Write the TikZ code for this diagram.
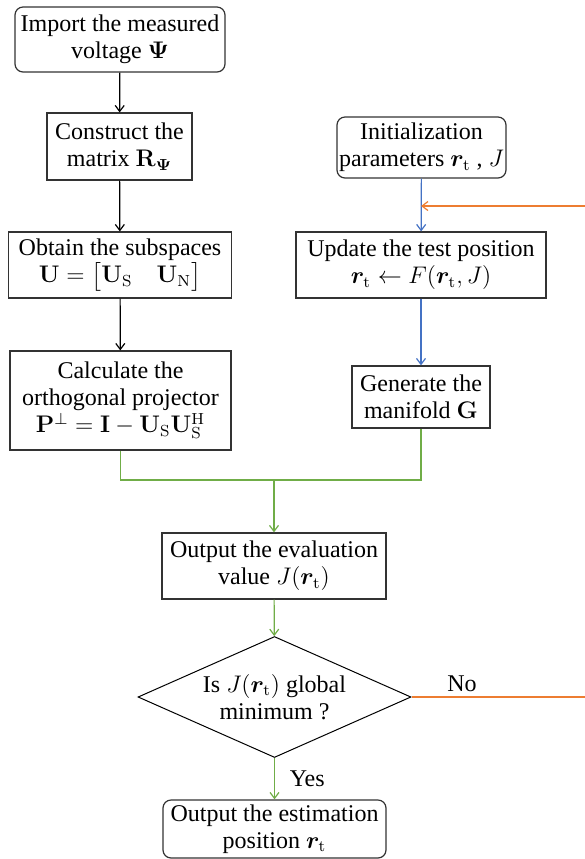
\documentclass[tikz,border=0pt]{standalone}
\usepackage{amsmath,bm}
\usepackage[no-math]{fontspec}
\setmainfont{Liberation Serif}
\usetikzlibrary{shapes.geometric,arrows.meta}
\definecolor{lineblue}{RGB}{68,114,196}
\definecolor{lineorange}{RGB}{237,125,49}
\definecolor{linegreen}{RGB}{112,173,71}
\tikzset{
  box/.style={draw=black!80,line width=0.6pt,align=center,inner sep=1pt,
    font=\fontsize{12}{13.5}\selectfont},
  roundbox/.style={box,rounded corners=4pt},
  decision/.style={draw,diamond,line width=0.5pt,inner sep=0pt,
    minimum width=136.5pt,minimum height=60.5pt},
  flow/.style={line width=0.6pt,-{Straight Barb[length=3pt,width=4.5pt]}},
  lbl/.style={text=black,font=\fontsize{12}{13.5}\selectfont}
}
\begin{document}
\begin{tikzpicture}[x=0.5pt,y=-0.5pt]
            \useasboundingbox (0,0) rectangle (585,859);
            \node[roundbox,minimum width=105pt,minimum height=32.5pt] (imp) at (120,39.5) {Import the measured\\voltage $\boldsymbol{\Psi}$};
            \node[box,minimum width=72.5pt,minimum height=33.5pt] (cons) at (119.5,146.5) {Construct the\\matrix $\mathbf{R}_{\boldsymbol{\Psi}}$};
            \node[box,minimum width=111.5pt,minimum height=33pt] (obt) at (120,265) {Obtain the subspaces\\$\mathbf{U}=\bigl[\mathbf{U}_{\mathrm{S}}\quad\mathbf{U}_{\mathrm{N}}\bigr]$};
            \node[box,minimum width=110.5pt,minimum height=49.5pt] (calc) at (120.5,400.5) {Calculate the\\orthogonal projector\\$\mathbf{P}^{\perp}=\mathbf{I}-\mathbf{U}_{\mathrm{S}}\mathbf{U}_{\mathrm{S}}^{\mathrm{H}}$};
            \node[roundbox,minimum width=84.5pt,minimum height=30.5pt] (init) at (421.5,147.5) {Initialization\\parameters $\bm{r}_{\mathrm{t}}$ , $J$};
            \node[box,minimum width=125pt,minimum height=33pt] (upd) at (421,265) {Update the test position\\$\bm{r}_{\mathrm{t}}\leftarrow F(\bm{r}_{\mathrm{t}},J)$};
            \node[box,minimum width=69pt,minimum height=31pt] (gen) at (421,397) {Generate the\\manifold $\mathbf{G}$};
            \node[box,minimum width=112pt,minimum height=33pt] (eval) at (274,566) {Output the evaluation\\value $J(\bm{r}_{\mathrm{t}})$};
            \node[decision] (dec) at (274.5,697) {};
            \node[lbl,align=center] (dectxt) at (dec) {Is $J(\bm{r}_{\mathrm{t}})$ global\\minimum ?};
            \node[roundbox,minimum width=111.5pt,minimum height=29pt] (est) at (274.5,829) {Output the estimation\\position $\bm{r}_{\mathrm{t}}$};
            \coordinate (mrg) at (274,480);
            \coordinate (fbin) at (421,206);
            \coordinate (rgt1) at (592,697);
            \coordinate (rgt2) at (592,206);
            \draw[flow] (imp) -- (cons);
            \draw[flow] (cons) -- (obt);
            \draw[flow] (obt) -- (calc);
            \draw[flow,lineblue] (init) -- (upd);
            \draw[flow,lineblue] (upd) -- (gen);
            \draw[line width=0.6pt,linegreen] (calc.south) |- (mrg) -| (gen.south);
            \draw[flow,linegreen] (mrg) -- (eval);
            \draw[flow,linegreen] (eval) -- (dec);
            \draw[flow,linegreen] (dec) -- (est) node[lbl,pos=0.5,right=4pt] {Yes};
            \draw[flow,lineorange] (dec.east) -- (rgt1) -- (rgt2) -- (fbin);
            \node[lbl] (no) at (462,684) {No};
        \end{tikzpicture}
\end{document}
